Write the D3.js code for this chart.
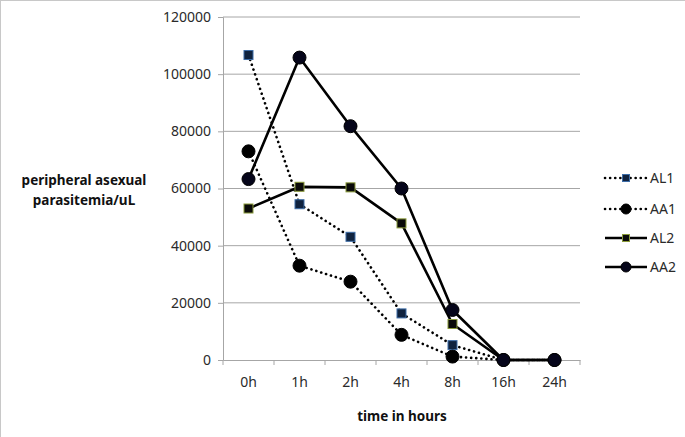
<!DOCTYPE html>
<html><head><meta charset="utf-8">
<script src="https://cdn.jsdelivr.net/npm/d3@7"></script>
<style>body{margin:0;background:#fff}svg{display:block}</style>
</head><body>
<script>
const categories = ["0h","1h","2h","4h","8h","16h","24h"];
const AL1 = [106700, 54500, 43100, 16300, 5200, 0, 0];
const AA1 = [73000, 33000, 27400, 8800, 1200, 0, 0];
const AL2 = [53000, 60600, 60400, 47800, 12600, 0, 0];
const AA2 = [63300, 105800, 81800, 60000, 17500, 0, 0];
const yTicks = [0, 20000, 40000, 60000, 80000, 100000, 120000];
const seriesNames = ["AL1","AA1","AL2","AA2"];

const W = 685, H = 437;
const svg = d3.select("body").append("svg").attr("width", W).attr("height", H);
svg.append("rect").attr("x",0.5).attr("y",0.5).attr("width",W+5).attr("height",H+5)
  .attr("fill","#fff").attr("stroke","#c8c8c8");

const L = 223, R = 580, T = 17, B = 360;
const x = d3.scaleBand().domain(categories).range([L, R]);
const y = d3.scaleLinear().domain([0, 120000]).range([B, T]);
const font = "'Noto Sans', 'Liberation Sans', sans-serif";

// gridlines
svg.append("g").selectAll("line").data(yTicks.filter(d=>d>0)).join("line")
  .attr("x1", L).attr("x2", R).attr("y1", d=>y(d)).attr("y2", d=>y(d))
  .attr("stroke", "#a6a6a6").attr("stroke-width", 1);

// y axis
const yAxis = svg.append("g").attr("transform", `translate(${L},0)`)
  .call(d3.axisLeft(y).tickValues(yTicks).tickFormat(d3.format("d")).tickSize(5).tickPadding(7));
yAxis.select(".domain").attr("stroke", "#a6a6a6");
yAxis.selectAll(".tick line").attr("stroke", "#a6a6a6");
yAxis.selectAll("text").attr("font-family", font).attr("font-size", 14).attr("fill", "#2a2a2a");

// x axis
const xAxis = svg.append("g").attr("transform", `translate(0,${B})`)
  .call(d3.axisBottom(x).tickSize(0).tickPadding(17));
xAxis.select(".domain").attr("stroke", "#a6a6a6");
xAxis.selectAll("text").attr("font-family", font).attr("font-size", 14).attr("fill", "#2a2a2a");
// boundary tick marks
svg.append("g").selectAll("line").data(d3.range(categories.length + 1)).join("line")
  .attr("x1", i => L + i * x.step()).attr("x2", i => L + i * x.step())
  .attr("y1", B).attr("y2", B + 5).attr("stroke", "#a6a6a6");

const cx = c => x(c) + x.bandwidth() / 2;
const line = d3.line().x((d, i) => cx(categories[i])).y(d => y(d));

const series = [
  {name:"AL1", data:AL1, dash:true, marker:"square", fill:"#10233f", stroke:"#3d6da8"},
  {name:"AA1", data:AA1, dash:true, marker:"circle", fill:"#000", stroke:"#000"},
  {name:"AL2", data:AL2, dash:false, marker:"square", fill:"#0a0a0a", stroke:"#8a9a3a"},
  {name:"AA2", data:AA2, dash:false, marker:"circle", fill:"#05051a", stroke:"#000"}
];

function drawMarker(g, s, px, py, sq, r) {
  if (s.marker === "square") {
    g.append("rect").attr("x", px - sq/2).attr("y", py - sq/2)
      .attr("width", sq).attr("height", sq)
      .attr("fill", s.fill).attr("stroke", s.stroke).attr("stroke-width", 1);
  } else {
    g.append("circle").attr("cx", px).attr("cy", py).attr("r", r)
      .attr("fill", s.fill).attr("stroke", s.stroke);
  }
}

series.forEach(s => {
  svg.append("path").datum(s.data).attr("d", line).attr("fill", "none")
    .attr("stroke", "#000").attr("stroke-width", 2.6)
    .attr("stroke-linecap", s.dash ? "round" : "butt")
    .attr("stroke-linejoin", "round")
    .attr("stroke-dasharray", s.dash ? "0.1 5" : null);
  const g = svg.append("g");
  s.data.forEach((v, i) => drawMarker(g, s, cx(categories[i]), y(v), 9, 6.5));
});

// legend
const legY = [178, 209, 238, 267];
series.forEach((s, i) => {
  const g = svg.append("g");
  const ly = legY[i];
  g.append("line").attr("x1", 605).attr("x2", 647).attr("y1", ly).attr("y2", ly)
    .attr("stroke", "#000").attr("stroke-width", 2.6)
    .attr("stroke-linecap", s.dash ? "round" : "butt")
    .attr("stroke-dasharray", s.dash ? "0.1 5" : null);
  drawMarker(g, s, 626, ly, 7, 5);
  g.append("text").attr("x", 650).attr("y", ly + 5).text(s.name)
    .attr("font-family", font).attr("font-size", 14).attr("fill", "#2a2a2a");
});

// axis titles
const yt = svg.append("text").attr("font-family", font).attr("font-size", 13.5)
  .attr("font-weight", "bold").attr("text-anchor", "middle").attr("fill", "#111");
yt.append("tspan").attr("x", 84).attr("y", 185).text("peripheral asexual");
yt.append("tspan").attr("x", 84).attr("y", 205).text("parasitemia/uL");

svg.append("text").attr("x", 402).attr("y", 421).attr("font-family", font)
  .attr("font-size", 13.5).attr("font-weight", "bold").attr("text-anchor", "middle")
  .attr("fill", "#111").text("time in hours");
</script>
</body></html>
